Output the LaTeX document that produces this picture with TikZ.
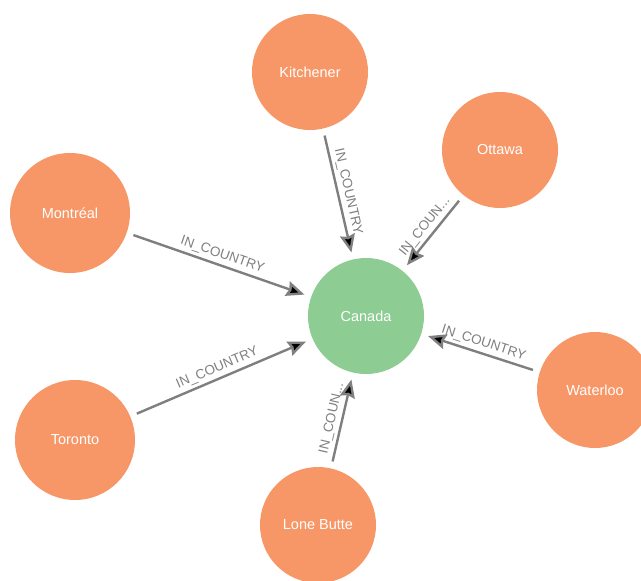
\documentclass[tikz,border=0pt]{standalone}
\usepackage{fontspec}
\setmainfont{Liberation Sans}
\usetikzlibrary{arrows.meta}
\definecolor{cityorange}{HTML}{F79767}
\definecolor{countrygreen}{HTML}{8DCC93}
\definecolor{relgray}{HTML}{7F7F7F}
\begin{document}
\begin{tikzpicture}[
  x=1pt, y=-1pt,
  place/.style={circle,inner sep=0pt,minimum size=116pt,text=white,
    font=\fontsize{14.5}{16}\selectfont},
  city/.style={place,fill=cityorange},
  country/.style={place,fill=countrygreen},
  rel/.style={draw=relgray,line width=2.4pt,
    -{Stealth[length=18pt,width=15pt,inset=2pt]},
    shorten <=7pt,shorten >=7pt},
  lbl/.style={sloped,above,inner sep=3pt,text=relgray,
    font=\fontsize{13.5}{15}\selectfont}
  ]
  \clip (0,0) rectangle (641,581);

  \node[country] (Canada)    at (366,316) {Canada};
  \node[city]    (Kitchener) at (310,72)  {Kitchener};
  \node[city]    (Ottawa)    at (500,150) {Ottawa};
  \node[city, minimum size=120pt] (Montreal) at (70,213) {Montréal};
  \node[city, minimum size=120pt] (Toronto)  at (75,440) {Toronto};
  \node[city]    (LoneButte) at (318,525) {Lone Butte};
  \node[city]    (Waterloo)  at (595,390) {Waterloo};

  \path[rel]
  (Kitchener) edge node[lbl] {IN\_COUNTRY} (Canada)
  (Ottawa)    edge node[lbl] {IN\_COUN...} (Canada)
  (Montreal)  edge node[lbl] {IN\_COUNTRY} (Canada)
  (Toronto)   edge node[lbl] {IN\_COUNTRY} (Canada)
  (LoneButte) edge node[lbl] {IN\_COUN...} (Canada)
  (Waterloo)  edge node[lbl] {IN\_COUNTRY} (Canada)
  ;
\end{tikzpicture}
\end{document}
